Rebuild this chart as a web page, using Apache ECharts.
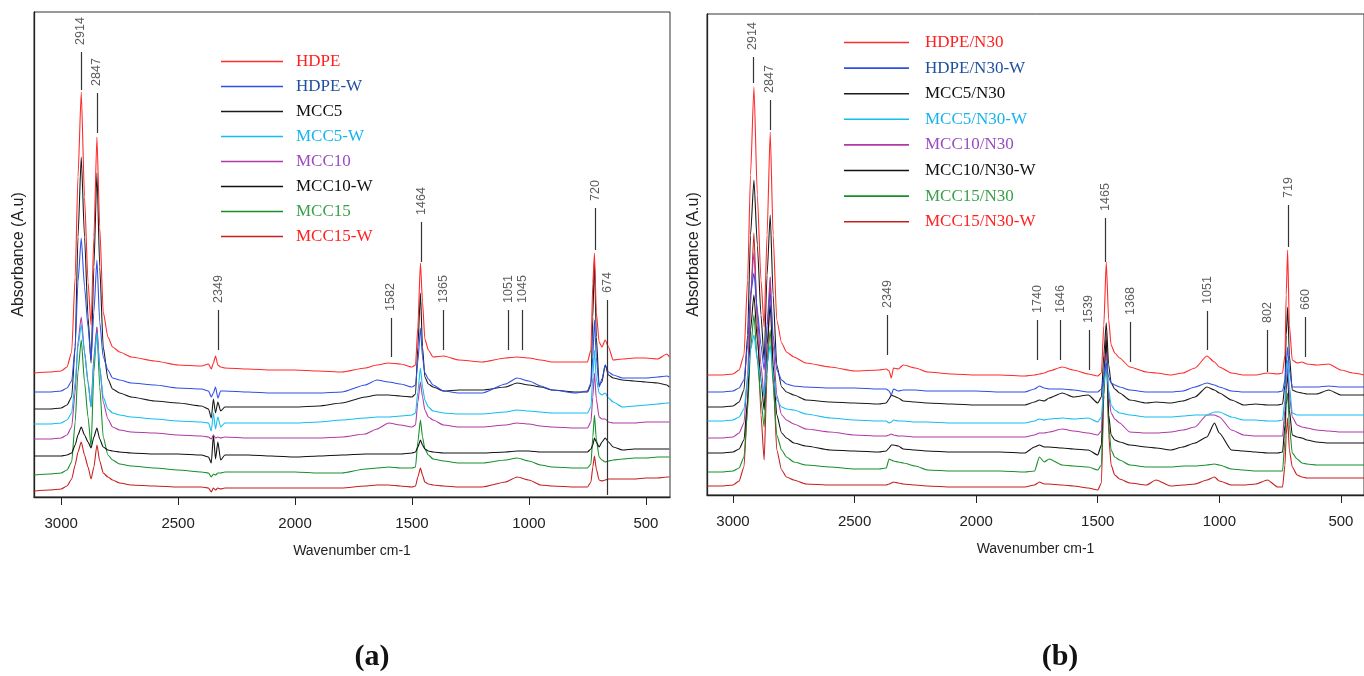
<!DOCTYPE html>
<html>
<head>
<meta charset="utf-8">
<script src="https://cdn.jsdelivr.net/npm/echarts@6/dist/echarts.min.js"></script>
<style>
  html, body { margin: 0; padding: 0; background: #fff; }
  #main { width: 1364px; height: 676px; }
</style>
</head>
<body>
<div id="main"></div>
<script>
// FTIR spectra, panel (a) and panel (b)
// y values are stacked absorbance in arbitrary units (offset curves)

var tickValues = [500, 1000, 1500, 2000, 2500, 3000];

// ---- panel (a) ----
var namesA = ['HDPE', 'HDPE-W', 'MCC5', 'MCC5-W', 'MCC10', 'MCC10-W', 'MCC15', 'MCC15-W'];

var wnA = [3115, 3050, 3000, 2975, 2955, 2940, 2928, 2914, 2900, 2885, 2872, 2860, 2847, 2835, 2820, 2800,
           2780, 2750, 2700, 2600, 2500, 2400, 2370, 2358, 2349, 2340, 2330, 2318, 2300, 2200, 2100, 2000,
           1900, 1800, 1700, 1650, 1600, 1550, 1500, 1485, 1475, 1464, 1455, 1445, 1430, 1410,
           1365, 1300, 1200, 1100, 1051, 1000, 950, 900, 800, 750, 735,
           727, 720, 712, 700, 688, 674, 660, 640, 600, 550, 500, 450, 410, 400];

var hdpeA = [124,125,126,130,145,220,320,405,300,215,172,260,360,270,185,160,
             150,145,140,136,132,131,133,128,134,141,132,130,129,128,127,127,
             126,125,129,132,134,133,130,132,170,234,195,158,147,140,
             141,137,135,139,140,139,137,135,135,135,147,
             214,244,185,155,150,157,150,137,138,139,139,138,143,140];
var hdpeWA = [105,105,106,109,116,150,215,259,210,170,137,185,237,175,140,127,
              119,117,114,112,109,108,106,100,104,110,99,106,106,105,104,104,
              104,105,112,117,115,113,110,112,135,169,140,124,118,112,
              106,104,104,113,119,116,111,107,104,106,114,
              140,177,140,110,118,132,125,122,119,119,119,120,121,120];
var mcc5A = [88,88,89,92,100,150,260,340,260,180,134,230,324,230,150,118,
             108,104,100,96,94,91,88,79,98,84,95,86,90,90,90,90,
             91,94,100,102,102,101,100,103,150,204,150,120,113,110,
             106,107,107,110,114,112,110,107,105,105,112,
             180,237,160,112,115,132,122,119,117,116,115,114,112,110];
var mcc5WA = [73,73,74,77,84,115,150,172,145,115,90,135,164,130,100,88,
              84,82,80,78,76,75,74,66,84,68,80,70,74,74,74,74,
              75,77,79,80,80,81,82,84,105,129,110,97,90,86,
              84,83,83,85,87,86,85,84,84,84,90,
              120,147,118,104,102,104,99,95,90,91,92,93,94,94];
var mcc10A = [58,58,59,62,70,105,155,180,145,115,90,140,170,130,95,78,
              70,67,65,64,62,61,60,58,62,59,60,59,60,59,59,59,
              59,60,63,68,74,72,70,72,95,115,100,87,80,77,
              72,70,70,72,74,73,71,70,69,69,75,
              100,124,98,80,78,78,75,74,74,74,75,75,75,75];
var mcc10WA = [41,41,41,42,44,52,62,70,62,55,49,60,69,58,50,47,
               46,45,44,43,43,42,40,34,62,38,55,37,42,42,41,40,
               41,42,43,43,43,43,44,45,50,57,52,48,46,45,
               44,44,44,45,46,46,45,45,45,45,48,
               52,59,55,50,55,59,55,50,47,48,48,48,48,48];
var mcc15A = [22,23,24,27,35,75,125,157,115,80,50,125,170,110,60,42,
              37,33,31,29,27,25,24,20,23,22,24,24,25,25,25,25,
              24,24,28,29,30,29,29,30,55,77,60,48,42,38,
              36,34,34,37,39,36,32,30,29,29,33,
              60,82,58,40,37,35,36,37,38,39,39,40,40,40];
var mcc15WA = [6,7,8,11,18,32,45,55,42,30,18,30,52,36,24,20,
               17,14,12,11,10,10,9,5,9,7,9,8,9,9,9,9,
               9,9,11,12,12,11,10,11,20,29,22,15,13,12,
               11,10,10,15,20,17,12,11,10,10,15,
               30,41,28,17,16,17,18,18,18,18,19,19,20,20];

var peakPosA = [2916, 2847, 2328, 1590, 1461, 1367, 1089, 1029, 715, 666];
var peakTextA = ['2914', '2847', '2349', '1582', '1464', '1365', '1051', '1045', '720', '674'];
var peakTopA = [445, 404, 187, 179, 275, 187, 187, 187, 289, 197];
var peakBotA = [407, 364, 147, 140, 235, 147, 147, 147, 247, 2];

// ---- panel (b) ----
var namesB = ['HDPE/N30', 'HDPE/N30-W', 'MCC5/N30', 'MCC5/N30-W', 'MCC10/N30', 'MCC10/N30-W', 'MCC15/N30', 'MCC15/N30-W'];

var wnB = [3105, 3050, 3000, 2975, 2955, 2940, 2928, 2914, 2900, 2885, 2872, 2860, 2847, 2835, 2820, 2800,
           2780, 2750, 2700, 2600, 2500, 2400, 2370, 2358, 2349, 2340, 2320, 2300, 2250, 2200, 2100, 2000, 1900,
           1800, 1760, 1740, 1720, 1700, 1646, 1600, 1539, 1500, 1485, 1475, 1465, 1455, 1445, 1430, 1410,
           1368, 1300, 1260, 1200, 1150, 1100, 1051, 1020, 1000, 950, 900, 850, 802, 760, 740, 730,
           725, 719, 712, 700, 680, 660, 640, 600, 550, 500, 450, 405];

var hdpeB = [120,120,121,125,140,215,320,408,300,215,168,260,363,260,175,152,
             143,138,132,128,124,125,126,124,117,127,126,130,127,123,121,120,120,
             119,120,121,122,124,128,125,121,119,122,170,233,175,150,142,137,
             128,123,122,120,122,127,139,133,128,122,120,120,122,121,122,140,
             200,245,170,135,132,133,131,130,131,125,122,120];
var hdpeWB = [103,103,104,107,115,150,200,222,185,150,125,170,202,160,125,115,
              111,109,108,107,107,106,106,104,100,106,104,105,105,104,104,104,103,
              103,106,109,107,106,106,105,103,103,106,118,132,118,112,110,108,
              105,103,103,103,104,108,112,110,108,104,103,103,103,103,104,115,
              130,148,125,108,108,108,108,108,109,108,108,108];
var mcc5B = [88,88,89,93,105,160,260,315,250,180,135,220,280,200,130,108,
             103,100,95,93,92,91,92,96,100,99,97,94,93,92,91,90,90,
             90,93,95,94,97,102,98,100,92,98,140,172,130,112,106,102,
             95,92,93,92,94,98,108,105,102,95,90,91,90,90,91,110,
             160,188,140,105,103,102,101,101,105,100,100,100];
var mcc5WB = [74,74,75,78,86,115,145,160,135,115,100,130,150,120,95,88,
              86,85,81,77,75,74,74,72,73,75,74,74,73,73,72,72,72,
              72,74,76,75,76,77,76,77,73,78,110,135,105,90,85,82,
              80,78,78,78,79,80,80,83,83,78,75,75,74,74,75,95,
              120,135,110,82,80,80,80,80,80,80,80,80];
var mcc10B = [57,57,58,62,72,120,200,242,180,130,98,170,218,150,100,80,
              75,71,66,63,60,59,59,60,61,60,59,59,58,58,58,58,58,
              58,60,62,62,63,66,64,62,60,64,110,142,100,82,76,72,
              63,62,62,63,65,68,80,80,78,65,60,59,59,59,59,85,
              115,128,100,78,70,68,67,65,64,63,63,63];
var mcc10WB = [42,42,43,46,55,95,165,200,155,115,85,150,190,130,80,62,
               57,52,49,45,44,43,44,47,50,50,49,46,45,44,43,43,43,
               42,48,50,48,48,47,46,45,40,50,120,155,80,60,55,53,
               50,48,47,45,48,52,58,72,62,45,44,43,42,42,43,70,
               105,122,85,60,58,57,55,53,52,52,52,52];
var mcc15B = [23,23,24,27,38,85,145,180,135,95,68,130,165,110,60,45,
              38,33,30,28,26,26,27,36,35,34,33,32,29,25,24,24,24,
              23,24,38,33,36,30,29,28,25,30,100,145,70,45,38,35,
              30,28,28,28,29,29,30,31,30,26,25,24,24,24,24,55,
              90,102,70,42,36,32,31,30,30,30,30,30];
var mcc15WB = [9,9,10,14,28,90,190,262,170,80,35,120,218,120,45,25,
               18,15,11,10,10,10,10,11,12,13,12,11,10,9,8,8,8,
               8,10,13,11,11,10,9,7,5,12,100,162,60,30,20,16,
               12,10,15,9,10,11,15,18,14,10,10,11,15,8,8,30,
               60,77,45,28,20,18,17,17,17,17,17,17];

var peakPosB = [2918, 2848, 2364, 1748, 1654, 1537, 1469, 1366, 1050, 802, 716, 646];
var peakTextB = ['2914', '2847', '2349', '1740', '1646', '1539', '1465', '1368', '1051', '802', '719', '660'];
var peakTopB = [438, 395, 180, 175, 175, 165, 277, 173, 184, 165, 290, 178];
var peakBotB = [412, 365, 140, 135, 135, 125, 233, 133, 145, 123, 248, 138];

// colours (same order in both panels)
var lineColors = ['#ff2b2b', '#2f4fe6', '#1a1a1a', '#12bdf0', '#b03aa6', '#111111', '#16902a', '#c81e1e'];
var textColors = ['#ff2020', '#1f4f9e', '#111111', '#16b4ee', '#9a4cc0', '#111111', '#3aa04a', '#ff2020'];

var valuesA = [hdpeA, hdpeWA, mcc5A, mcc5WA, mcc10A, mcc10WA, mcc15A, mcc15WA];
var valuesB = [hdpeB, hdpeWB, mcc5B, mcc5WB, mcc10B, mcc10WB, mcc15B, mcc15WB];

var chart = echarts.init(document.getElementById('main'));

function spectrum(name, wn, vals, color, gi) {
    return {
        name: name,
        type: 'line',
        xAxisIndex: gi,
        yAxisIndex: gi,
        data: wn.map(function (w, i) { return [w, vals[i]]; }),
        symbol: 'none',
        smooth: 0.2,
        smoothMonotone: 'x',
        itemStyle: { color: color },
        lineStyle: { color: color, width: 1.1 },
        silent: true
    };
}

function peakMarks(pos, text, top, bot, gi) {
    return {
        type: 'scatter',
        xAxisIndex: gi,
        yAxisIndex: gi,
        symbolSize: 0.1,
        itemStyle: { color: 'rgba(0,0,0,0)' },
        silent: true,
        z: 5,
        data: pos.map(function (p, i) { return { name: text[i], value: [p, top[i]] }; }),
        label: {
            show: true,
            position: 'top',
            distance: 7,
            rotate: 90,
            align: 'left',
            verticalAlign: 'middle',
            formatter: '{b}',
            fontFamily: 'Liberation Sans',
            fontSize: 12.5,
            color: '#333'
        },
        markLine: {
            silent: true,
            symbol: ['none', 'none'],
            label: { show: false },
            lineStyle: { color: '#333', width: 1.2, type: 'solid' },
            data: pos.map(function (p, i) { return [{ coord: [p, top[i]] }, { coord: [p, bot[i]] }]; })
        }
    };
}

function legendFor(names, left, top, width, gap, pad) {
    return {
        orient: 'vertical',
        left: left,
        top: top,
        itemWidth: width,
        itemHeight: 1.6,
        itemGap: gap,
        icon: 'rect',
        selectedMode: false,
        data: names.map(function (n, i) {
            return {
                name: n,
                textStyle: { color: textColors[i], fontFamily: 'Liberation Serif', fontSize: 17, lineHeight: 17, padding: [0, 0, 0, pad] }
            };
        }),
        textStyle: { fontFamily: 'Liberation Serif', fontSize: 17, lineHeight: 17, padding: [0, 0, 0, pad] }
    };
}

function xAxisFor(gi, min, max) {
    return {
        gridIndex: gi,
        type: 'value',
        min: min,
        max: max,
        inverse: true,
        name: 'Wavenumber cm-1',
        nameLocation: 'middle',
        nameGap: 47,
        nameTextStyle: { fontFamily: 'Liberation Sans', fontSize: 14, color: '#222' },
        axisLine: { show: true, onZero: false, lineStyle: { color: '#222', width: 1.3 } },
        axisTick: { show: true, length: 8, customValues: tickValues, lineStyle: { color: '#222' } },
        axisLabel: {
            customValues: tickValues,
            margin: 19,
            fontFamily: 'Liberation Sans',
            fontSize: 15,
            color: '#222',
            formatter: function (v) { return String(v); }
        },
        splitLine: { show: false }
    };
}

function yAxisFor(gi, max, gap) {
    return {
        gridIndex: gi,
        type: 'value',
        min: 0,
        max: max,
        name: 'Absorbance (A.u)',
        nameLocation: 'middle',
        nameGap: gap,
        nameTextStyle: { fontFamily: 'Liberation Sans', fontSize: 16, color: '#222' },
        axisLine: { show: true, lineStyle: { color: '#222', width: 1.3 } },
        axisTick: { show: false },
        axisLabel: { show: false },
        splitLine: { show: false }
    };
}

var series = [];
for (var i = namesA.length - 1; i >= 0; i--) {
    series.push(spectrum(namesA[i], wnA, valuesA[i], lineColors[i], 0));
}
for (var j = namesB.length - 1; j >= 0; j--) {
    series.push(spectrum(namesB[j], wnB, valuesB[j], lineColors[j], 1));
}
series.push(peakMarks(peakPosA, peakTextA, peakTopA, peakBotA, 0));
series.push(peakMarks(peakPosB, peakTextB, peakTopB, peakBotB, 1));

var option = {
    animation: false,
    backgroundColor: '#fff',
    grid: [
        { left: 34, top: 12, width: 636, height: 485, show: true, borderColor: '#333', borderWidth: 1 },
        { left: 707, top: 14, width: 663, height: 481, show: true, borderColor: '#333', borderWidth: 1 }
    ],
    xAxis: [xAxisFor(0, 397, 3116), xAxisFor(1, 405, 3107)],
    yAxis: [yAxisFor(0, 485, 7), yAxisFor(1, 481, 5)],
    legend: [
        legendFor(namesA, 216, 48, 62, 8, 8),
        legendFor(namesB, 839, 29, 65, 8.6, 11)
    ],
    graphic: [
        { type: 'text', x: 372, y: 657, style: { text: '(a)', font: 'bold 30px "Liberation Serif"', fill: '#111', align: 'center', verticalAlign: 'middle' } },
        { type: 'text', x: 1060, y: 657, style: { text: '(b)', font: 'bold 30px "Liberation Serif"', fill: '#111', align: 'center', verticalAlign: 'middle' } }
    ],
    series: series
};

chart.setOption(option);
</script>
</body>
</html>
